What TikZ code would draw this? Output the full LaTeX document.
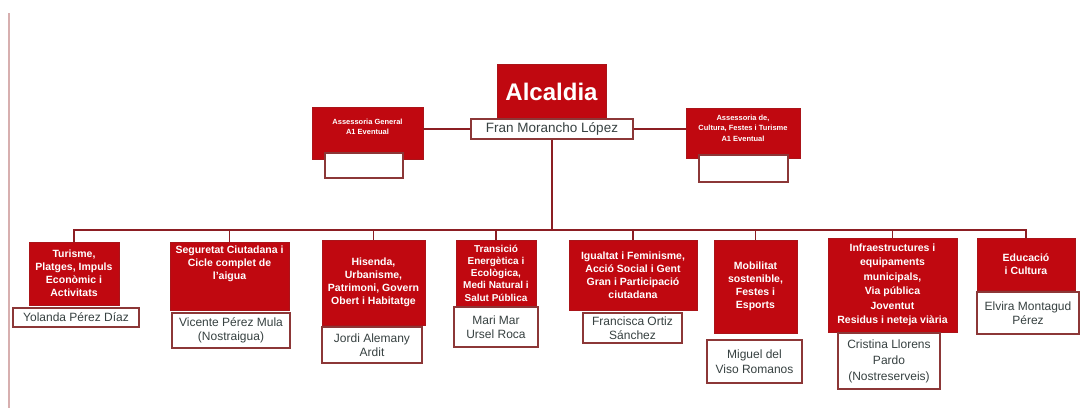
\documentclass[tikz,border=0pt]{standalone}
\usepackage{fontspec}
\setmainfont{Liberation Sans}
\definecolor{tred}{RGB}{192,8,16}
\definecolor{redge}{RGB}{170,20,25}
\definecolor{nedge}{RGB}{140,55,55}
\definecolor{ntxt}{RGB}{55,65,65}
\definecolor{conn}{RGB}{140,30,35}
\definecolor{margin}{RGB}{215,175,175}
\tikzset{
  redbox/.style={draw=redge, line width=0.8pt, fill=tred, text=white, align=center, inner sep=1pt,
    font=\bfseries\fontsize{10.5}{13}\selectfont},
  hdrbox/.style={redbox, font=\bfseries\fontsize{7.5}{10.5}\selectfont},
  namebox/.style={draw=nedge, line width=1.1pt, fill=white, text=ntxt, align=center, inner sep=1pt,
    font=\fontsize{12}{14.5}\selectfont},
  connline/.style={draw=conn, line width=1.3pt},
  marginline/.style={draw=margin, line width=2pt}
}
\begin{document}
\begin{tikzpicture}[x=1pt,y=-1pt]
\useasboundingbox (0,0) rectangle (1080,408);
\fill[white] (0,0) rectangle (1080,408);
% left margin rule
\coordinate (mtop) at (9,13);
\coordinate (mbot) at (9,408);
\draw[marginline] (mtop) -- (mbot);
% bus level
\coordinate (bus) at (0,230);

% top
\node[redbox, minimum width=109pt, minimum height=56pt, font=\bfseries\fontsize{24}{26}\selectfont] (alc) at (551.5,92) {Alcaldia};
\node[namebox, minimum width=162pt, minimum height=20pt, font=\fontsize{13.5}{15}\selectfont] (fran) at (552,129) {Fran Morancho López};

\node[hdrbox, minimum width=111pt, minimum height=52pt, text depth=12pt] (asg) at (367.5,133) {Assessoria General\\A1 Eventual};
\node[namebox, minimum width=78pt, minimum height=25pt] (asgn) at (364,165.5) {};
\node[hdrbox, minimum width=114pt, minimum height=50pt, text depth=10pt] (asc) at (743,133) {Assessoria de,\\Cultura, Festes i Turisme\\A1 Eventual};
\node[namebox, minimum width=89pt, minimum height=27pt] (ascn) at (743.5,168.5) {};

% bottom departments
\node[redbox, minimum width=90pt, minimum height=63pt] (b1) at (74,273.5) {Turisme,\\Platges, Impuls\\Econòmic i\\Activitats};
\node[namebox, minimum width=126pt, minimum height=19pt] (n1) at (76,317.5) {Yolanda Pérez Díaz};

\node[redbox, minimum width=119pt, minimum height=68pt, text depth=27pt] (b2) at (229.5,276) {Seguretat Ciutadana i\\Cicle complet de\\l'aigua};
\node[namebox, minimum width=118pt, minimum height=35pt] (n2) at (231,330.5) {Vicente Pérez Mula\\(Nostraigua)};

\node[redbox, minimum width=103pt, minimum height=85pt] (b3) at (373.5,282.5) {Hisenda,\\Urbanisme,\\Patrimoni, Govern\\Obert i Habitatge};
\node[namebox, minimum width=100pt, minimum height=36pt] (n3) at (372,345) {Jordi Alemany\\Ardit};

\node[redbox, minimum width=80pt, minimum height=66pt, font=\bfseries\fontsize{10}{12.3}\selectfont] (b4) at (496,273) {Transició\\Energètica i\\Ecològica,\\Medi Natural i\\Salut Pública};
\node[namebox, minimum width=84pt, minimum height=40pt] (n4) at (496,327) {Mari Mar\\Ursel Roca};

\node[redbox, minimum width=128pt, minimum height=70pt] (b5) at (633,275) {Igualtat i Feminisme,\\Acció Social i Gent\\Gran i Participació\\ciutadana};
\node[namebox, minimum width=99pt, minimum height=30pt] (n5) at (632.5,328) {Francisca Ortiz\\Sánchez};

\node[redbox, minimum width=83pt, minimum height=93pt] (b6) at (755.5,286.5) {Mobilitat\\sostenible,\\Festes i\\Esports};
\node[namebox, minimum width=95pt, minimum height=43pt] (n6) at (754.5,361.5) {Miguel del\\Viso Romanos};

\node[redbox, minimum width=129pt, minimum height=94pt, font=\bfseries\fontsize{10.5}{14.5}\selectfont] (b7) at (892.5,285) {Infraestructures i\\equipaments\\municipals,\\Via pública\\Joventut\\Residus i neteja viària};
\node[namebox, minimum width=102pt, minimum height=56pt, font=\fontsize{12}{16}\selectfont] (n7) at (889,361) {Cristina Llorens\\Pardo\\(Nostreserveis)};

\node[redbox, minimum width=98pt, minimum height=52pt] (b8) at (1026,264) {Educació\\i Cultura};
\node[namebox, minimum width=102pt, minimum height=42pt] (n8) at (1028,313) {Elvira Montagud\\Pérez};

% connectors
\draw[connline] (asg.east |- fran.west) -- (fran.west);
\draw[connline] (fran.east) -- (fran.east -| asc.west);
\draw[connline] (fran.south) -- (fran.south |- bus);
\draw[connline] (b1.north) -- (b1.north |- bus) -- (b8.north |- bus) -- (b8.north);
\foreach \b in {b2,b3,b4,b5,b6,b7}{
  \draw[connline] (\b.north) -- (\b.north |- bus);
}
\end{tikzpicture}
\end{document}
